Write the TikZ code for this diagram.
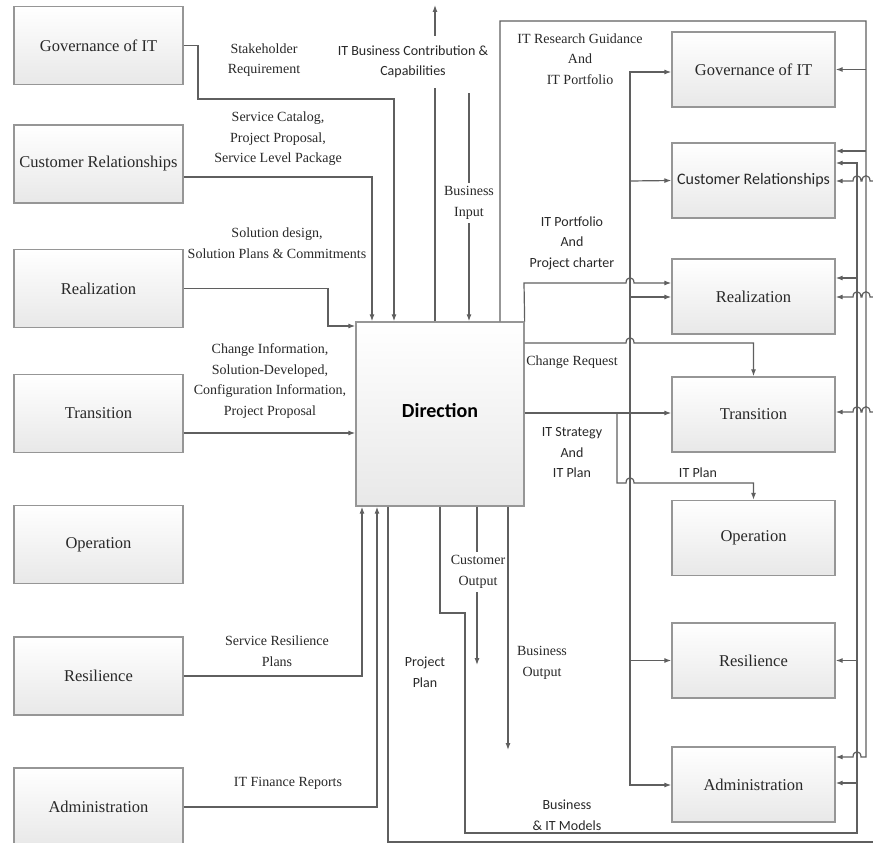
\documentclass[tikz,border=0pt]{standalone}
\usepackage{fontspec}
\setmainfont{Liberation Serif}
\newfontfamily\calibfont{Carlito}
\usepackage{tikz}
\usetikzlibrary{arrows.meta}
\usepackage{xcolor}
\definecolor{boxline}{RGB}{150,150,150}
\definecolor{flowline}{RGB}{95,95,95}
\definecolor{inktext}{RGB}{40,40,40}
\newcommand{\boxfont}{\fontsize{16.5}{19}\selectfont}
\newcommand{\lblfont}{\fontsize{14}{20.5}\selectfont}
\newcommand{\sanslbl}{\calibfont\fontsize{14}{20.5}\selectfont}

\begin{document}
\begin{tikzpicture}[x=1pt,y=-1pt, >={Latex[length=7pt,width=5pt]}]
  \tikzstyle{unit}=[rectangle, draw=boxline, line width=1.3pt, top color=white, bottom color=gray!18, minimum width=169pt, minimum height=78pt, inner sep=0pt, text=inktext, font=\boxfont]
  \tikzstyle{runit}=[unit, minimum width=163pt, minimum height=75pt]
  \tikzstyle{flow}=[draw=flowline, line width=1.2pt]
  \tikzstyle{lbl}=[align=center, text=inktext, font=\lblfont, inner sep=1pt]
  \tikzstyle{slbl}=[lbl, font=\sanslbl]
  \useasboundingbox (0,0) rectangle (873,843);

  % left column
  \node[unit] (lgov) at (98.5,45.5) {Governance of IT};
  \node[unit] (lcust) at (98.5,164) {Customer Relationships};
  \node[unit] (lreal) at (98.5,288.5) {Realization};
  \node[unit] (ltrans) at (98.5,413.5) {Transition};
  \node[unit] (lop) at (98.5,544.5) {Operation};
  \node[unit] (lres) at (98.5,676) {Resilience};
  \node[unit] (ladmin) at (98.5,807) {Administration};

  % right column
  \node[runit] (rgov) at (753.5,69.5) {Governance of IT};
  \node[runit, font=\calibfont\fontsize{16}{18}\selectfont] (rcust) at (753.5,180.5) {Customer Relationships};
  \node[runit] (rreal) at (753.5,296.5) {Realization};
  \node[runit] (rtrans) at (753.5,414.5) {Transition};
  \node[runit] (rop) at (753.5,538) {Operation};
  \node[runit] (rres) at (753.5,660.5) {Resilience};
  \node[runit] (radmin) at (753.5,784.5) {Administration};

  \node[unit, minimum width=168pt, minimum height=184pt, text=black, font=\calibfont\bfseries\fontsize{20}{22}\selectfont] (dir) at (440,414) {\raisebox{7pt}{Direction}};

  \coordinate (topout) at (435,5);
  \coordinate (binp) at (469,93);
  \coordinate (cout) at (477,665);
  \coordinate (bout) at (508,750);
  \coordinate (edgeB) at (873,842);
  \coordinate (edgeC) at (873,181);
  \coordinate (edgeR) at (873,297);
  \coordinate (edgeT) at (873,412);
  \coordinate (jn) at (630,413);

  % inputs from the left
  \draw[flow,->] (lgov.east) -- (198,45.5) -- (198,99) -- (394,99) -- (dir.north -| 394,0);
  \draw[flow,->] (lcust.east |- 0,177) -- (372,177) -- (dir.north -| 372,0);
  \draw[flow,->] (lreal.east) -- (328,288.5) -- (328,326) -- (dir.west |- 0,326);
  \draw[flow,->] (ltrans.east |- 0,433) -- (dir.west |- 0,433);
  \draw[flow,->] (lres.east) -- (362,676) -- (dir.south -| 362,0);
  \draw[flow,->] (ladmin.east) -- (377,807) -- (dir.south -| 377,0);

  % top and bottom
  \draw[flow,->] (dir.north -| 435,0) -- (topout);
  \draw[flow,->] (binp) -- (dir.north -| 469,0);
  \draw[flow,->] (dir.south -| 477,0) -- (cout);
  \draw[flow,->] (dir.south -| 508,0) -- (bout);
  \draw[flow] (dir.south -| 388,0) -- (388,842) -- (edgeB);
  \draw[flow,->] (dir.south -| 440,0) -- (440,613) -- (465,613) -- (465,833) -- (857,833) -- (857,163) -- (rcust.east |- 0,163);
  \draw[flow,->] (857,278) -- (rreal.east |- 0,278);
  \draw[flow,->] (857,660.5) -- (rres.east);
  \draw[flow,->] (857,783) -- (radmin.east |- 0,783);

  % outer loop
  \draw[flow,->] (dir.north -| 500,0) -- (500,21) -- (866,21) -- (866,757) -- (861,757) .. controls +(0,-7) and +(0,-7) .. (853,757) -- (radmin.east |- 0,757);
  \draw[flow,->] (866,69.5) -- (rgov.east);
  \draw[flow,->] (866,151) -- (rcust.east |- 0,151);

  % from the right edge
  \draw[flow,->] (edgeC) -- (870,181) .. controls +(0,-7) and +(0,-7) .. (862,181) -- (861,181) .. controls +(0,-7) and +(0,-7) .. (853,181) -- (rcust.east |- 0,181);
  \draw[flow,->] (edgeR) -- (870,297) .. controls +(0,-7) and +(0,-7) .. (862,297) -- (861,297) .. controls +(0,-7) and +(0,-7) .. (853,297) -- (rreal.east |- 0,297);
  \draw[flow,->] (edgeT) -- (870,412) .. controls +(0,-7) and +(0,-7) .. (862,412) -- (861,412) .. controls +(0,-7) and +(0,-7) .. (853,412) -- (rtrans.east |- 0,412);

  % outputs to the right
  \draw[flow,->] (dir.north east) -- (524,283) -- (626,283) .. controls +(0,-7) and +(0,-7) .. (634,283) -- (rreal.west |- 0,283);
  \draw[flow,->] (dir.east |- 0,343) -- (626,343) .. controls +(0,-7) and +(0,-7) .. (634,343) -- (753.5,343) -- (rtrans.north);
  \draw[flow,->] (dir.east |- 0,413) -- (rtrans.west |- 0,413);
  \draw[flow,->] (jn) |- (rgov.west |- 0,72);
  \draw[flow,->] (jn) |- (radmin.west |- 0,785);
  \draw[flow,->] (630,181) -- (rcust.west);
  \draw[flow,->] (630,297) -- (rreal.west |- 0,297);
  \draw[flow,->] (630,660.5) -- (rres.west);
  \draw[flow,->] (617,413) -- (617,483) -- (626,483) .. controls +(0,-7) and +(0,-7) .. (634,483) -- (753.5,483) -- (rop.north);

  % labels
  \node[lbl] (lstake) at (264,60) {Stakeholder\\Requirement};
  \node[lbl] (lcatalog) at (278,139) {Service Catalog,\\Project Proposal,\\Service Level Package};
  \node[lbl] (lsolution) at (277,243) {Solution design,\\Solution Plans \& Commitments};
  \node[lbl] (lchange) at (270,381) {Change Information,\\Solution-Developed,\\Configuration Information,\\Project Proposal};
  \node[lbl] (lresplan) at (277,651) {Service Resilience\\Plans};
  \node[lbl] (lfinance) at (288,783) {IT Finance Reports};
  \node[slbl, fill=white, inner ysep=10pt] (lcontrib) at (413,62) {IT Business Contribution \&\\Capabilities};
  \node[lbl, fill=white, inner ysep=4pt] (lbinput) at (469,203) {Business\\Input};
  \node[lbl] (lresearch) at (580,59) {IT Research Guidance\\And\\IT Portfolio};
  \node[slbl] (lportfolio) at (572,243) {IT Portfolio\\And\\Project charter};
  \node[lbl] (lchreq) at (572,362) {Change Request};
  \node[slbl] (lstrategy) at (572,453) {IT Strategy\\And\\IT Plan};
  \node[slbl] (litplan) at (698,473) {IT Plan};
  \node[lbl, fill=white, inner ysep=4pt] (lcout) at (478,572) {Customer\\Output};
  \node[lbl] (lbout) at (542,663) {Business\\Output};
  \node[slbl] (lpplan) at (425,672) {Project\\Plan};
  \node[slbl] (lmodels) at (567,815) {Business\\\& IT Models};
\end{tikzpicture}
\end{document}
